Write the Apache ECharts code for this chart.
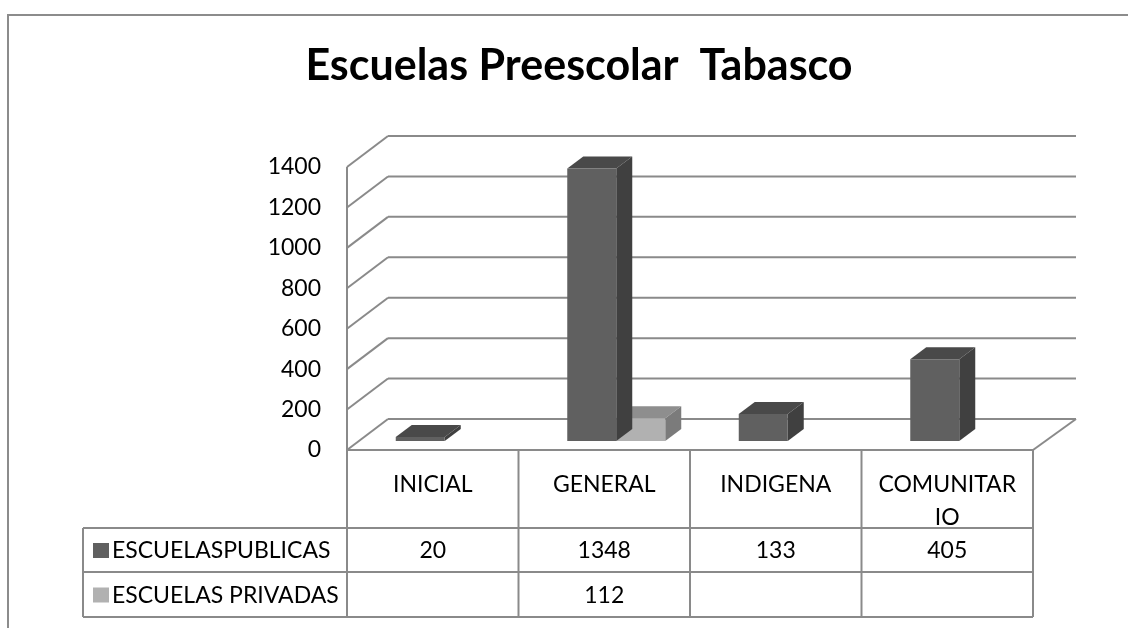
<!DOCTYPE html>
<html>
<head>
<meta charset="utf-8">
<script src="https://cdn.jsdelivr.net/npm/echarts@6/dist/echarts.min.js"></script>
<style>
html,body{margin:0;padding:0;background:#fff;}
#c{width:1128px;height:628px;}
</style>
</head>
<body>
<div id="c"></div>
<script>
// ---- data ----
const titleText = 'Escuelas Preescolar  Tabasco';
const categories = ['INICIAL', 'GENERAL', 'INDIGENA', 'COMUNITARIO'];
const seriesNames = ['ESCUELASPUBLICAS', 'ESCUELAS PRIVADAS'];
const publicas = [20, 1348, 133, 405];
const privadas = [null, 112, null, null];
const yMin = 0, yMax = 1400, yStep = 200;
const yTicks = [0, 200, 400, 600, 800, 1000, 1200, 1400];

// ---- style ----
const FONT = 'Lato';
const LINE = '#8a8a8a';
const colors = [
  { front: '#606060', side: '#404040', top: '#494949' },
  { front: '#b1b1b1', side: '#7b7b7b', top: '#8e8e8e' }
];
const DEPTH = { dx: 41, dy: -31 };   // front plane -> back wall
const BAR = { dx: 16, dy: -12 };     // bar depth
const TABLE = { left: 83, headerH: 78, rowH: [44, 45] };

const chart = echarts.init(document.getElementById('c'), null, { renderer: 'canvas' });

function wallItem(params, api) {
  const cs = params.coordSys;
  const v = api.value(1);
  const p = api.coord([0, v]);
  const y = p[1];
  const x0 = cs.x, x1 = cs.x + cs.width;
  const children = [
    { type: 'line', shape: { x1: x0 + DEPTH.dx, y1: y + DEPTH.dy, x2: x1 + DEPTH.dx + 2, y2: y + DEPTH.dy }, style: { stroke: LINE, lineWidth: 2 } },
    { type: 'line', shape: { x1: x0, y1: y, x2: x0 + DEPTH.dx, y2: y + DEPTH.dy }, style: { stroke: LINE, lineWidth: 2 } }
  ];
  if (v === yMin) {
    children.push({ type: 'line', shape: { x1: x1, y1: y, x2: x1 + DEPTH.dx + 2, y2: y + DEPTH.dy }, style: { stroke: LINE, lineWidth: 2 } });
    const top = api.coord([0, yMax])[1];
    children.push({ type: 'line', shape: { x1: x0, y1: top, x2: x0, y2: y }, style: { stroke: LINE, lineWidth: 2 } });
  }
  return { type: 'group', children };
}

function barItem(slot) {
  const col = colors[slot];
  return function (params, api) {
    const v = api.value(1);
    if (v == null || isNaN(v)) return;
    const c = api.coord([api.value(0), v]);
    const b = api.coord([api.value(0), 0]);
    const bw = api.size([1, 0])[0];
    const w = bw * 0.2857;
    const x0 = c[0] - w + slot * w, x1 = x0 + w;
    const yt = c[1], yb = b[1];
    return {
      type: 'group',
      children: [
        { type: 'polygon', shape: { points: [[x0, yt], [x1, yt], [x1 + BAR.dx, yt + BAR.dy], [x0 + BAR.dx, yt + BAR.dy]] }, style: { fill: col.top } },
        { type: 'polygon', shape: { points: [[x1, yt], [x1 + BAR.dx, yt + BAR.dy], [x1 + BAR.dx, yb + BAR.dy], [x1, yb]] }, style: { fill: col.side } },
        { type: 'rect', shape: { x: x0, y: yt, width: w, height: yb - yt }, style: { fill: col.front } }
      ]
    };
  };
}

const rowValues = [publicas, privadas];

function tableItem(params, api) {
  const cs = params.coordSys;
  const i = api.value(0);
  const center = api.coord([i, 0]);
  const bw = api.size([1, 0])[0];
  const yTop = center[1];
  const yHead = yTop + TABLE.headerH;
  const yR1 = yHead + TABLE.rowH[0];
  const yR2 = yR1 + TABLE.rowH[1];
  const rowsY = [[yHead, yR1], [yR1, yR2]];
  const xl = center[0] - bw / 2, xr = center[0] + bw / 2;
  const ls = { stroke: LINE, lineWidth: 2 };
  const children = [];
  children.push({ type: 'line', shape: { x1: xl, y1: yTop, x2: xl, y2: yR2 }, style: ls });
  if (i === categories.length - 1) {
    children.push({ type: 'line', shape: { x1: xr, y1: yTop, x2: xr, y2: yR2 }, style: ls });
  }
  children.push({
    type: 'text', x: center[0], y: yTop + 18,
    style: { text: categories[i], fill: '#000', font: '23px ' + FONT, align: 'center', verticalAlign: 'top', width: bw - 28, overflow: 'breakAll', lineHeight: 33 }
  });
  rowValues.forEach((arr, r) => {
    const v = arr[i];
    if (v != null) {
      children.push({
        type: 'text', x: center[0], y: (rowsY[r][0] + rowsY[r][1]) / 2 + 1,
        style: { text: String(v), fill: '#000', font: '23px ' + FONT, align: 'center', verticalAlign: 'middle' }
      });
    }
  });
  if (i === 0) {
    const xEnd = cs.x + cs.width;
    children.push({ type: 'line', shape: { x1: xl, y1: yTop, x2: xEnd, y2: yTop }, style: ls });
    [yHead, yR1, yR2].forEach(yy => children.push({ type: 'line', shape: { x1: TABLE.left, y1: yy, x2: xEnd, y2: yy }, style: ls }));
    children.push({ type: 'line', shape: { x1: TABLE.left, y1: yHead, x2: TABLE.left, y2: yR2 }, style: ls });
    seriesNames.forEach((n, r) => {
      const cy = (rowsY[r][0] + rowsY[r][1]) / 2;
      children.push({ type: 'rect', shape: { x: TABLE.left + 10, y: cy - 7, width: 16, height: 15 }, style: { fill: colors[r].front } });
      children.push({
        type: 'text', x: TABLE.left + 29, y: cy + 1,
        style: { text: n, fill: '#000', font: '23px ' + FONT, align: 'left', verticalAlign: 'middle' }
      });
    });
  }
  return { type: 'group', children };
}

chart.setOption({
  animation: false,
  backgroundColor: '#fff',
  title: {
    text: titleText, left: 574, top: 40, textAlign: 'center',
    textStyle: { fontFamily: FONT, fontWeight: 'bold', fontSize: 43, color: '#000' }
  },
  graphic: [
    { type: 'rect', shape: { x: 8, y: 15, width: 1200, height: 700 }, style: { fill: null, stroke: '#8c8c8c', lineWidth: 2 }, z: 100 }
  ],
  grid: [
    { left: 347, top: 167, width: 686, height: 283 },
    { left: 359, top: 158, width: 686, height: 283 }
  ],
  xAxis: [
    { type: 'category', gridIndex: 0, data: categories, show: false },
    { type: 'category', gridIndex: 1, data: categories, show: false }
  ],
  yAxis: [
    {
      type: 'value', gridIndex: 0, min: yMin, max: yMax, interval: yStep,
      axisLine: { show: false }, axisTick: { show: false }, splitLine: { show: false },
      axisLabel: { margin: 26, color: '#000', fontFamily: FONT, fontSize: 23, formatter: v => String(v) }
    },
    { type: 'value', gridIndex: 1, min: yMin, max: yMax, interval: yStep, show: false, splitLine: { show: false } }
  ],
  series: [
    { type: 'custom', xAxisIndex: 0, yAxisIndex: 0, renderItem: wallItem, data: yTicks.map(v => [0, v]), z: 1, silent: true },
    { type: 'custom', name: seriesNames[0], xAxisIndex: 1, yAxisIndex: 1, renderItem: barItem(0), data: publicas.map((v, i) => [i, v == null ? NaN : v]), z: 3 },
    { type: 'custom', name: seriesNames[1], xAxisIndex: 1, yAxisIndex: 1, renderItem: barItem(1), data: privadas.map((v, i) => [i, v == null ? NaN : v]), z: 2 },
    { type: 'custom', xAxisIndex: 0, yAxisIndex: 0, renderItem: tableItem, data: categories.map((c, i) => [i, 0]), z: 4, silent: true }
  ]
});
</script>
</body>
</html>
